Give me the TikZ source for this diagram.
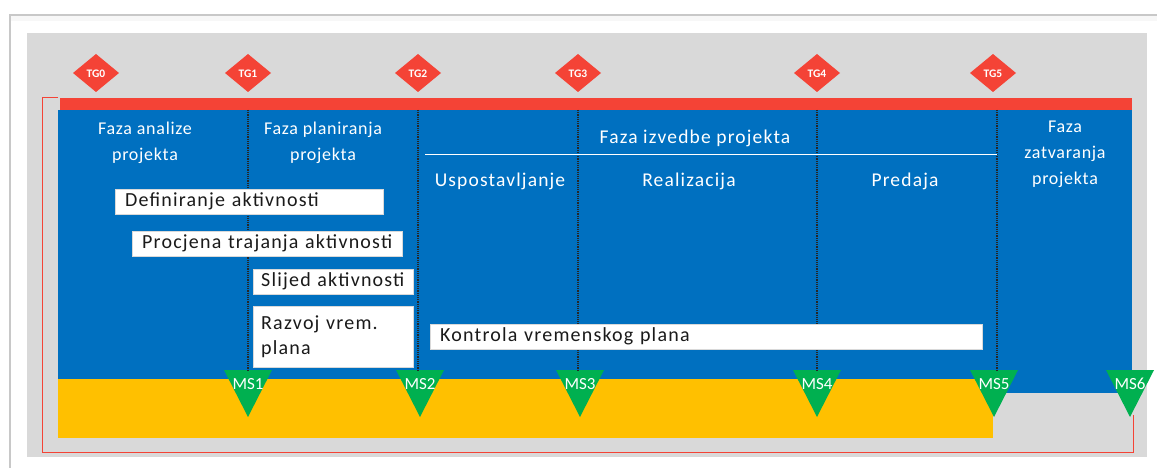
\documentclass[tikz,border=0pt]{standalone}
\usepackage{fontspec}
\setmainfont{Carlito}
\newfontfamily\wide[LetterSpace=4]{Carlito}
\newfontfamily\wider[LetterSpace=6]{Carlito}
\definecolor{pblue}{HTML}{0070C0}
\definecolor{pred}{HTML}{F44336}
\definecolor{pyel}{HTML}{FFC000}
\definecolor{pgreen}{HTML}{00B050}
\definecolor{pgray}{HTML}{D9D9D9}
\definecolor{frame}{HTML}{C8C8C8}
\definecolor{ptext}{HTML}{1A1A1A}
\tikzset{
  phase/.style={text=white, font=\wide\fontsize{18}{26}\selectfont, align=center, inner sep=0pt},
  subphase/.style={text=white, font=\wider\fontsize{19.5}{26}\selectfont, align=center, inner sep=0pt},
  actbox/.style={fill=white, draw=white!85!black, line width=0.4pt, text=ptext, font=\wider\fontsize{20}{25}\selectfont, anchor=north west, align=left, inner xsep=10pt, inner ysep=0pt},
  tglabel/.style={text=white, font=\fontsize{11.5}{12}\selectfont\bfseries, inner sep=0pt},
  mslabel/.style={text=white, font=\fontsize{17}{18}\selectfont, inner sep=0pt},
  divider/.style={densely dotted, line width=1.2pt, black!85}
}
\begin{document}
\begin{tikzpicture}[x=1pt,y=-1pt]
\useasboundingbox (0,0) rectangle (1157,468);
\fill[white] (0,0) rectangle (1157,468);
% outer frame
\draw[frame, line width=2pt] (10,468) -- (10,15) -- (1157,15);
\fill[black!3] (11,16) rectangle (1157,21);
% gray panel
\fill[pgray] (27,33) rectangle (1147,457);
% red bracket
\draw[pred, line width=1pt] (58,98) -- (42,98) -- (42,452) -- (1133,452) -- (1133,415);
% red bar
\fill[pred] (60,98) rectangle (1132,110);
% blue areas
\fill[pblue] (58,110) rectangle (1132,379);
\fill[pblue] (997,110) rectangle (1132,393);
% yellow
\fill[pyel] (58,379) rectangle (993,438);
% TG diamonds
\foreach \x/\n in {96/0,248/1,418/2,578/3,817/4,993/5}{
  \fill[pred] (\x-23,73) -- (\x,54) -- (\x+23,73) -- (\x,92) -- cycle;
  \node[tglabel] (tg\n) at (\x,74) {TG\n};
}
% milestone triangles
\foreach \x/\n in {248/1,420/2,580/3,817/4,994/5,1130/6}{
  \fill[pgreen] (\x-24,370) -- (\x+24,370) -- (\x,417) -- cycle;
  \coordinate (mstop\n) at (\x,370);
  \node[mslabel] (ms\n) at (\x,384) {MS\n};
}
% dividers
\foreach \x/\n in {248/1,418/2,578/3,817/4,997/5}{
  \coordinate (dtop\n) at (\x,110);
  \coordinate (dbot\n) at (\x,370);
  \draw[divider] (dtop\n) -- (dbot\n);
}
% phase labels
\node[phase] (p1) at (145,143) {Faza analize\\projekta};
\node[phase] (p2) at (323,143) {Faza planiranja\\projekta};
\node[subphase] (p3) at (695,138) {Faza izvedbe projekta};
\node[phase] (p4) at (1065,154) {Faza\\zatvaranja\\projekta};
\coordinate (ul) at (425,155);
\coordinate (ur) at (997,155);
\draw[white, line width=1pt] (ul) -- (ur);
\node[subphase] (s1) at (500,181) {Uspostavljanje};
\node[subphase] (s2) at (689,181) {Realizacija};
\node[subphase] (s3) at (905,181) {Predaja};
% activity boxes
\node[actbox, text width=248pt, minimum height=25pt] (a1) at (115,189) {Definiranje aktivnosti};
\node[actbox, text width=250pt, minimum height=25pt] (a2) at (132,231) {Procjena trajanja aktivnosti};
\node[actbox, inner xsep=8pt, text width=144pt, minimum height=25pt] (a3) at (253,269) {Slijed aktivnosti};
\node[actbox, inner xsep=8pt, text width=144pt, minimum height=61pt] (a4) at (253,306) {Razvoj vrem.\\plana};
\node[actbox, text width=532pt, minimum height=25pt] (a5) at (430,324) {Kontrola vremenskog plana};
\end{tikzpicture}
\end{document}
